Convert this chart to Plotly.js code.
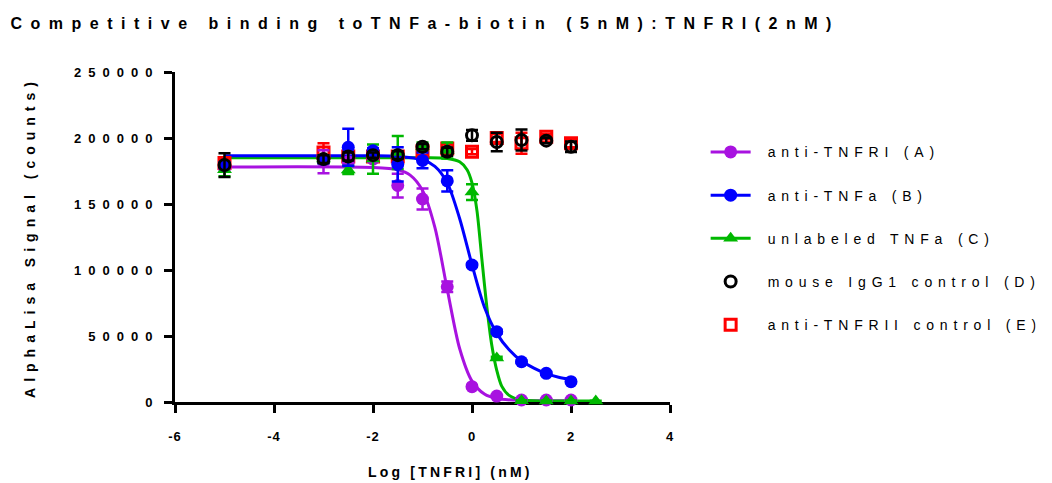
<!DOCTYPE html>
<html>
<head>
<meta charset="utf-8">
<script src="https://cdn.plot.ly/plotly-3.0.1.min.js"></script>
<style>
  html, body { margin: 0; padding: 0; background: #fff; }
  #chart { width: 1052px; height: 483px; }
  .gtitle { letter-spacing: 8.5px; }
  .annotation-text { letter-spacing: 3.2px; }
  .ytitle { letter-spacing: 6px; }
  .ytick text { letter-spacing: 7px; }
  .xtick text { letter-spacing: 1px; }
  .legendtext { letter-spacing: 5.8px; transform: translateX(12px); }
</style>
</head>
<body>
<div id="chart"></div>
<script>
// ---- data ----
const xAll = [-5, -3, -2.5, -2, -1.5, -1, -0.5, 0, 0.5, 1, 1.5, 2];
const xC   = [-5, -3, -2.5, -2, -1.5, -1, -0.5, 0, 0.5, 1, 1.5, 2, 2.5];

const aY   = [178500, 182000, 182000, 184000, 164000, 153800, 87300, 11600, 4500, 1500, 1500, 1500];
const aErr = [3000, 8700, 2000, 2000, 9000, 8000, 4000, 1000, 500, 500, 500, 500];

const bY   = [179500, 183800, 193000, 190300, 180000, 183000, 167500, 103800, 53300, 30500, 21700, 15400];
const bErr = [2000, 3000, 14000, 2000, 13000, 6000, 8000, 1500, 1500, 1000, 1000, 1000];

const cY   = [176000, 184000, 175800, 184000, 189000, 193500, 190500, 159000, 33300, 1000, 800, 800, 700];
const cErr = [5000, 3000, 3000, 11000, 12500, 3000, 6000, 6000, 1000, 300, 300, 300, 300];

const dY   = [179500, 184000, 186000, 187000, 187000, 193400, 189600, 202000, 197000, 198500, 198000, 193400];
const dErr = [9000, 3000, 3000, 2000, 3000, 2000, 3000, 4000, 7000, 8000, 2000, 4000];

const eY   = [181000, 189000, 186000, 186000, 186000, 190000, 192000, 189600, 200000, 196000, 201000, 196000];
const eErr = [2000, 7000, 3000, 3000, 3000, 3000, 3000, 2000, 3000, 8000, 2000, 3000];

// fitted curves
const aCurveX = [-5, -2, -1.5, -1.25, -1, -0.75, -0.5, -0.25, 0, 0.25, 0.5, 1, 2];
const aCurveY = [178000, 177600, 175900, 171900, 160300, 132300, 85300, 40500, 15800, 6000, 2600, 1200, 1000];
const bCurveX = [-5, -2, -1.5, -1, -0.75, -0.5, -0.25, 0, 0.25, 0.5, 0.75, 1, 1.25, 1.5, 1.75, 2];
const bCurveY = [186500, 186500, 186000, 183500, 178500, 166000, 139000, 104000, 72000, 52000, 39500, 31000, 25700, 21500, 18800, 17000];
const cCurveX = [-5, -1, -0.5, -0.25, -0.1, 0, 0.1, 0.2, 0.3, 0.4, 0.5, 0.6, 0.75, 1, 1.5, 2.5];
const cCurveY = [185000, 185000, 184500, 182000, 176000, 166000, 145000, 108000, 72000, 43000, 24000, 12000, 5000, 1500, 800, 700];

const names = ['anti-TNFRI (A)', 'anti-TNFa (B)', 'unlabeled TNFa (C)', 'mouse IgG1 control (D)', 'anti-TNFRII control (E)'];
const xTicks = [-6, -4, -2, 0, 2, 4];
const yTicks = [0, 50000, 100000, 150000, 200000, 250000];
const titleText = 'Competitive binding toTNFa-biotin (5nM):TNFRI(2nM)';
const xTitle = 'Log [TNFRI] (nM)';
const yTitle = 'AlphaLisa Signal (counts)';

// ---- styles ----
const colA = '#a812e0', colB = '#0000ff', colC = '#00b800', colD = '#000000', colE = '#ff0000';

function errBar(arr, col) {
  return {type: 'data', array: arr, visible: true, color: col, thickness: 2.5, width: 6};
}

const legendTraces = [
  {x: [null], y: [null], name: names[0], mode: 'lines+markers', line: {color: colA, width: 3}, marker: {symbol: 'circle', size: 13, color: colA}},
  {x: [null], y: [null], name: names[1], mode: 'lines+markers', line: {color: colB, width: 3}, marker: {symbol: 'circle', size: 13, color: colB}},
  {x: [null], y: [null], name: names[2], mode: 'lines+markers', line: {color: colC, width: 3}, marker: {symbol: 'triangle-up', size: 13, color: colC}},
  {x: [null], y: [null], name: names[3], mode: 'markers', marker: {symbol: 'circle-open', size: 11, color: colD, line: {width: 3, color: colD}}},
  {x: [null], y: [null], name: names[4], mode: 'markers', marker: {symbol: 'square-open', size: 11, color: colE, line: {width: 3, color: colE}}}
].map((t, i) => Object.assign(t, {type: 'scatter', legendgroup: 'g' + i, showlegend: true, hoverinfo: 'skip'}));

const curveTraces = [
  {x: aCurveX, y: aCurveY, line: {color: colA, width: 3, shape: 'spline', smoothing: 0.8}},
  {x: cCurveX, y: cCurveY, line: {color: colC, width: 3, shape: 'spline', smoothing: 0.8}},
  {x: bCurveX, y: bCurveY, line: {color: colB, width: 3, shape: 'spline', smoothing: 0.8}}
].map(t => Object.assign(t, {type: 'scatter', mode: 'lines', showlegend: false, hoverinfo: 'skip', cliponaxis: false}));

const markerTraces = [
  {x: xAll, y: eY, error_y: errBar(eErr, colE), marker: {symbol: 'square-open', size: 11, color: colE, line: {width: 3, color: colE}}},
  {x: xAll, y: aY, error_y: errBar(aErr, colA), marker: {symbol: 'circle', size: 13, color: colA}},
  {x: xC,   y: cY, error_y: errBar(cErr, colC), marker: {symbol: 'triangle-up', size: 13, color: colC}},
  {x: xAll, y: bY, error_y: errBar(bErr, colB), marker: {symbol: 'circle', size: 13, color: colB}},
  {x: xAll, y: dY, error_y: errBar(dErr, colD), marker: {symbol: 'circle-open', size: 11, color: colD, line: {width: 3, color: colD}}}
].map(t => Object.assign(t, {type: 'scatter', mode: 'markers', showlegend: false, cliponaxis: false}));

const font = 'Liberation Sans, Arial, sans-serif';

const layout = {
  width: 1052, height: 483,
  paper_bgcolor: '#fff', plot_bgcolor: '#fff',
  margin: {l: 175, r: 382, t: 72, b: 81, pad: 0, autoexpand: false},
  font: {family: font, color: '#000'},
  title: {text: '<b>' + titleText + '</b>', font: {family: font, size: 16, color: '#000'},
          x: 0.01, xanchor: 'left', xref: 'container', y: 0.952, yanchor: 'middle', yref: 'container'},
  xaxis: {
    range: [-6, 4], tickvals: xTicks, ticktext: xTicks.map(String),
    showgrid: false, zeroline: false, showline: true, linecolor: '#000', linewidth: 3,
    ticks: 'outside', ticklen: 8, tickwidth: 3, tickcolor: '#000',
    tickfont: {family: font, size: 13, color: '#000', weight: 'bold'},
    layer: 'below traces', ticklabelstandoff: 12
  },
  yaxis: {
    range: [0, 250000], tickvals: yTicks, ticktext: yTicks.map(String),
    showgrid: false, zeroline: false, showline: true, linecolor: '#000', linewidth: 3,
    ticks: 'outside', ticklen: 8, tickwidth: 3, tickcolor: '#000',
    tickfont: {family: font, size: 13, color: '#000', weight: 'bold'},
    layer: 'below traces', ticklabelstandoff: 2,
    title: {text: '<b>' + yTitle + '</b>', font: {family: font, size: 14, color: '#000'}, standoff: 36}
  },
  annotations: [{
    text: '<b>' + xTitle + '</b>', xref: 'paper', yref: 'paper',
    x: 0.556, y: -0.212, xanchor: 'center', yanchor: 'middle', showarrow: false,
    font: {family: font, size: 14, color: '#000'}
  }],
  legend: {
    x: 1.072, xanchor: 'left', y: 0.805, yanchor: 'top',
    font: {family: font, size: 14, color: '#000'},
    tracegroupgap: 22, itemwidth: 40, bgcolor: 'rgba(0,0,0,0)', borderwidth: 0
  },
  showlegend: true
};

Plotly.newPlot('chart', legendTraces.concat(curveTraces, markerTraces), layout, {displayModeBar: false, staticPlot: true});
</script>
</body>
</html>
